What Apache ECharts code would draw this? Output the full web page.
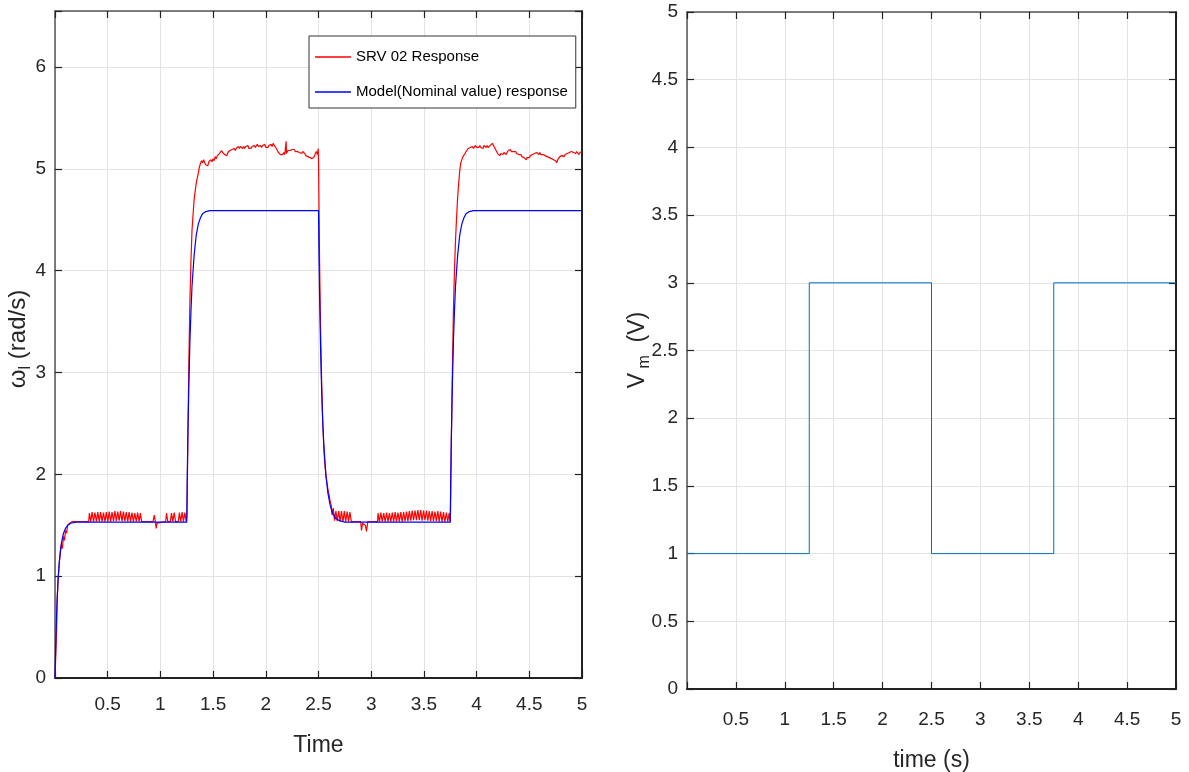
<!DOCTYPE html>
<html>
<head>
<meta charset="utf-8">
<script src="https://cdn.jsdelivr.net/npm/echarts@6/dist/echarts.min.js"></script>
<style>html,body{margin:0;padding:0;background:#fff}#c{width:1189px;height:772px}</style>
</head>
<body>
<div id="c"></div>
<script>
// ---- data ----
const seriesNames = ['SRV 02 Response', 'Model(Nominal value) response'];
const xTickStep = 0.5;
const leftYMax = 6.55;
const rightYMax = 5;

const srvLow1 = [
[0,0],[0.01,0.01],[0.015,0.45],[0.02,0.76],[0.03,0.98],[0.04,1.12],[0.05,1.22],[0.06,1.31],[0.07,1.27],[0.08,1.39],[0.09,1.35],[0.1,1.45],[0.11,1.42],[0.12,1.5],[0.14,1.52],[0.16,1.535],
[0.32,1.535],[0.326,1.62],[0.339,1.535],[0.352,1.63],[0.366,1.535],[0.379,1.625],[0.393,1.535],[0.406,1.63],[0.42,1.535],[0.433,1.63],[0.447,1.535],[0.46,1.625],[0.474,1.535],[0.487,1.63],[0.501,1.535],[0.514,1.635],[0.528,1.535],[0.541,1.63],[0.555,1.54],[0.568,1.64],[0.582,1.54],[0.595,1.635],[0.609,1.545],[0.622,1.64],[0.636,1.54],[0.649,1.635],[0.663,1.54],[0.676,1.63],[0.69,1.535],[0.703,1.63],[0.717,1.535],[0.73,1.625],[0.744,1.535],[0.757,1.62],[0.771,1.535],[0.784,1.625],[0.798,1.535],[0.81,1.62],[0.822,1.535],
[0.93,1.535],[0.942,1.6],[0.952,1.535],[0.96,1.47],[0.968,1.52],[0.98,1.535],
[1.05,1.535],[1.058,1.62],[1.07,1.535],[1.095,1.535],[1.105,1.62],[1.118,1.535],[1.131,1.625],[1.144,1.535],[1.17,1.535],[1.18,1.625],[1.193,1.535],[1.206,1.63],[1.219,1.535],[1.232,1.625],[1.245,1.535]
];
const srvHigh1 = [
[1.252,1.6],[1.26,2.3],[1.27,3.1],[1.28,3.7],[1.29,4.1],[1.3,4.4],[1.32,4.7],[1.34,4.86],[1.36,4.96],[1.37,5.02],[1.38,5.05],[1.39,5.08],[1.4,5.06],[1.41,5.09],[1.42,5.06],[1.43,5.04],[1.44,5.05],[1.45,5.03],[1.46,5.07],[1.47,5.06],[1.48,5.09],[1.49,5.07],[1.5,5.1],[1.51,5.08],[1.52,5.12],[1.53,5.1],[1.54,5.13],[1.55,5.12],[1.56,5.15],[1.57,5.14],[1.58,5.18],[1.59,5.16],[1.6,5.17],[1.61,5.14],[1.62,5.15],[1.63,5.13],[1.64,5.16],[1.65,5.15],[1.66,5.18],[1.67,5.17],[1.68,5.19],[1.69,5.18],[1.7,5.2],[1.71,5.18],[1.72,5.2],[1.73,5.19],[1.74,5.22],[1.75,5.2],[1.76,5.22],[1.77,5.21],[1.78,5.2],[1.79,5.22],[1.8,5.2],[1.81,5.22],[1.82,5.21],[1.83,5.23],[1.84,5.2],[1.85,5.21],[1.86,5.2],[1.87,5.22],[1.88,5.21],[1.89,5.23],[1.9,5.21],[1.91,5.22],[1.92,5.24],[1.93,5.22],[1.94,5.21],[1.95,5.23],[1.96,5.21],[1.97,5.23],[1.98,5.22],[1.99,5.24],[2.0,5.21],[2.01,5.22],[2.02,5.21],[2.03,5.23],[2.04,5.22],[2.05,5.24],[2.06,5.22],[2.07,5.25],[2.08,5.23],[2.09,5.22],[2.1,5.2],[2.11,5.18],[2.12,5.16],[2.13,5.15],[2.14,5.14],[2.15,5.15],[2.16,5.14],[2.17,5.16],[2.18,5.14],[2.19,5.15],[2.193,5.27],[2.196,5.15],[2.2,5.16],[2.21,5.18],[2.22,5.17],[2.23,5.18],[2.24,5.17],[2.25,5.19],[2.26,5.18],[2.27,5.19],[2.28,5.17],[2.29,5.18],[2.3,5.17],[2.31,5.18],[2.32,5.16],[2.33,5.17],[2.34,5.15],[2.35,5.17],[2.36,5.16],[2.37,5.15],[2.38,5.13],[2.39,5.14],[2.4,5.12],[2.41,5.13],[2.42,5.11],[2.43,5.12],[2.44,5.1],[2.45,5.09],[2.46,5.12],[2.47,5.15],[2.48,5.17],[2.49,5.14],[2.497,5.2]
];
const srvLow2 = [
[2.5,5.1],[2.505,4.6],[2.51,4.1],[2.52,3.4],[2.53,2.9],[2.54,2.52],[2.55,2.27],[2.56,2.1],[2.57,2.0],[2.58,1.92],[2.59,1.85],[2.6,1.8],[2.61,1.74],[2.62,1.7],[2.628,1.6],[2.64,1.67],[2.652,1.545],[2.665,1.64],[2.678,1.54],[2.692,1.64],[2.705,1.535],[2.718,1.64],[2.732,1.535],[2.745,1.64],[2.758,1.535],[2.772,1.635],[2.785,1.535],[2.798,1.63],[2.812,1.535],
[2.9,1.535],[2.908,1.45],[2.918,1.52],[2.93,1.535],[2.945,1.5],[2.955,1.44],[2.968,1.535],
[3.06,1.535],[3.065,1.62],[3.078,1.535],[3.092,1.625],[3.105,1.535],[3.119,1.62],[3.132,1.535],[3.146,1.625],[3.159,1.535],[3.173,1.62],[3.186,1.535],[3.2,1.625],[3.213,1.535],[3.227,1.63],[3.24,1.535],[3.254,1.625],[3.267,1.535],[3.281,1.63],[3.294,1.535],[3.308,1.63],[3.321,1.54],[3.335,1.635],[3.348,1.54],[3.362,1.64],[3.375,1.545],[3.389,1.645],[3.402,1.55],[3.416,1.645],[3.429,1.55],[3.443,1.65],[3.456,1.55],[3.47,1.65],[3.483,1.545],[3.497,1.645],[3.51,1.55],[3.524,1.645],[3.537,1.545],[3.551,1.64],[3.564,1.54],[3.578,1.64],[3.591,1.54],[3.605,1.635],[3.618,1.54],[3.632,1.64],[3.645,1.535],[3.659,1.635],[3.672,1.535],[3.686,1.63],[3.699,1.535],[3.713,1.625],[3.726,1.535],[3.74,1.62],[3.748,1.535]
];
const srvHigh2 = [
[3.752,1.6],[3.76,2.3],[3.77,3.0],[3.78,3.6],[3.79,4.0],[3.8,4.3],[3.81,4.52],[3.82,4.72],[3.83,4.86],[3.84,4.98],[3.85,5.06],[3.86,5.09],[3.87,5.12],[3.88,5.13],[3.89,5.15],[3.9,5.17],[3.91,5.18],[3.92,5.2],[3.93,5.19],[3.94,5.21],[3.95,5.2],[3.96,5.22],[3.97,5.2],[3.98,5.21],[3.99,5.23],[4.0,5.21],[4.01,5.22],[4.02,5.21],[4.03,5.23],[4.04,5.21],[4.05,5.22],[4.06,5.2],[4.07,5.23],[4.08,5.22],[4.09,5.21],[4.1,5.23],[4.11,5.21],[4.12,5.22],[4.13,5.23],[4.14,5.22],[4.15,5.25],[4.16,5.23],[4.17,5.21],[4.18,5.19],[4.19,5.17],[4.2,5.15],[4.21,5.14],[4.22,5.13],[4.23,5.15],[4.24,5.16],[4.25,5.14],[4.26,5.16],[4.27,5.15],[4.28,5.14],[4.29,5.16],[4.3,5.18],[4.31,5.17],[4.32,5.19],[4.33,5.17],[4.34,5.18],[4.35,5.17],[4.36,5.16],[4.37,5.17],[4.38,5.15],[4.39,5.16],[4.4,5.14],[4.41,5.15],[4.42,5.14],[4.43,5.12],[4.44,5.13],[4.45,5.11],[4.46,5.12],[4.47,5.09],[4.48,5.11],[4.49,5.12],[4.5,5.11],[4.51,5.13],[4.52,5.12],[4.53,5.14],[4.54,5.13],[4.55,5.15],[4.56,5.14],[4.57,5.16],[4.58,5.15],[4.59,5.14],[4.6,5.16],[4.61,5.14],[4.62,5.15],[4.63,5.14],[4.64,5.15],[4.65,5.13],[4.66,5.14],[4.67,5.12],[4.68,5.13],[4.69,5.11],[4.7,5.12],[4.71,5.1],[4.72,5.11],[4.73,5.09],[4.74,5.1],[4.75,5.08],[4.76,5.06],[4.77,5.09],[4.78,5.1],[4.79,5.12],[4.8,5.11],[4.81,5.13],[4.82,5.14],[4.83,5.12],[4.84,5.14],[4.85,5.13],[4.86,5.15],[4.87,5.14],[4.88,5.16],[4.89,5.15],[4.9,5.17],[4.91,5.18],[4.92,5.16],[4.93,5.17],[4.94,5.15],[4.95,5.17],[4.96,5.16],[4.97,5.14],[4.98,5.16],[4.99,5.15],[5.0,5.17]
];
const modelData = [
[0,0],[0.005,0.24],[0.01,0.45],[0.015,0.62],[0.02,0.76],[0.03,0.98],[0.04,1.13],[0.05,1.24],[0.06,1.32],[0.08,1.42],[0.1,1.47],[0.12,1.5],[0.15,1.52],[0.2,1.53],[1.25,1.53],[1.255,2.0],[1.26,2.33],[1.27,2.88],[1.28,3.3],[1.29,3.6],[1.3,3.85],[1.32,4.15],[1.34,4.35],[1.36,4.46],[1.38,4.52],[1.4,4.56],[1.43,4.58],[1.47,4.59],[2.5,4.59],[2.505,4.12],[2.51,3.78],[2.52,3.22],[2.53,2.82],[2.54,2.52],[2.55,2.3],[2.57,1.99],[2.59,1.81],[2.61,1.7],[2.63,1.63],[2.66,1.57],[2.7,1.545],[2.75,1.53],[3.75,1.53],[3.755,2.0],[3.76,2.33],[3.77,2.88],[3.78,3.3],[3.79,3.6],[3.8,3.85],[3.82,4.15],[3.84,4.35],[3.86,4.46],[3.88,4.52],[3.9,4.56],[3.93,4.58],[3.97,4.59],[5,4.59]
];
const vmTime = [0, 1.25, 1.25, 2.5, 2.5, 3.75, 3.75, 5];
const vmValue = [1, 1, 3, 3, 1, 1, 3, 3];

// ---- chart ----
const FONT = "'Liberation Sans',Arial,sans-serif";
const srvData = srvLow1.concat(srvHigh1, srvLow2, srvHigh2);
const vmData = vmTime.map((t, i) => [t, vmValue[i]]);

const gridLineColor = '#e3e3e3';
const lightAxis = '#555';
const darkAxis = '#222';

function xAx(grid, pos, max, margin, opts) {
  const main = pos === 'bottom';
  return Object.assign({
    type: 'value', gridIndex: grid, position: pos, min: 0, max: max, interval: xTickStep,
    axisLine: { show: true, onZero: false, lineStyle: { color: main ? darkAxis : lightAxis, width: main ? 2 : 1.5 } },
    axisTick: { show: true, inside: true, length: 7, lineStyle: { color: darkAxis, width: 1.2 } },
    axisLabel: { show: main, color: '#262626', fontFamily: FONT, fontSize: 19, margin: margin,
      formatter: v => (v === 0 ? '' : String(v)) },
    splitLine: { show: main, lineStyle: { color: gridLineColor, width: 1 } }
  }, opts || {});
}
function yAx(grid, pos, max, step, opts) {
  const main = pos === 'left';
  return Object.assign({
    type: 'value', gridIndex: grid, position: pos, min: 0, max: max, interval: step,
    axisLine: { show: true, onZero: false, lineStyle: { color: main ? lightAxis : darkAxis, width: main ? 1.5 : 2 } },
    axisTick: { show: true, inside: true, length: 7, lineStyle: { color: darkAxis, width: 1.2 } },
    axisLabel: { show: main, color: '#262626', fontFamily: FONT, fontSize: 19, margin: 9,
      formatter: v => (Math.abs(v / step - Math.round(v / step)) < 1e-6 ? String(v) : '') },
    splitLine: { show: main, lineStyle: { color: gridLineColor, width: 1 } }
  }, opts || {});
}

const chart = echarts.init(document.getElementById('c'), null, { renderer: 'canvas' });
chart.setOption({
  backgroundColor: '#fff',
  animation: false,
  grid: [
    { left: 55, top: 11, width: 527, height: 667, outerBoundsMode: 'none', containLabel: false },
    { left: 687, top: 12, width: 489, height: 677, outerBoundsMode: 'none', containLabel: false }
  ],
  xAxis: [
    xAx(0, 'bottom', 5, 17, { name: 'Time', nameLocation: 'middle', nameGap: 56,
      nameTextStyle: { fontFamily: FONT, fontSize: 23, color: '#262626' } }),
    xAx(0, 'top', 5, 8),
    xAx(1, 'bottom', 5, 21, { name: 'time (s)', nameLocation: 'middle', nameGap: 60,
      nameTextStyle: { fontFamily: FONT, fontSize: 23, color: '#262626' } }),
    xAx(1, 'top', 5, 8)
  ],
  yAxis: [
    yAx(0, 'left', leftYMax, 1),
    yAx(0, 'right', leftYMax, 1),
    yAx(1, 'left', rightYMax, 0.5),
    yAx(1, 'right', rightYMax, 0.5)
  ],
  legend: {
    data: seriesNames,
    orient: 'vertical',
    left: 309, top: 36,
    padding: [11, 8, 6, 6],
    itemGap: 15,
    icon: 'rect',
    itemWidth: 36, itemHeight: 1.5,
    backgroundColor: '#fff',
    borderColor: '#333', borderWidth: 1,
    textStyle: { fontFamily: FONT, fontSize: 15, lineHeight: 20, color: '#000' }
  },
  series: [
    { name: seriesNames[0], type: 'line', xAxisIndex: 0, yAxisIndex: 0, data: srvData,
      symbol: 'none', showSymbol: false, lineStyle: { color: '#ff0000', width: 1.2 }, itemStyle: { color: '#ff0000' } },
    { name: seriesNames[1], type: 'line', xAxisIndex: 0, yAxisIndex: 0, data: modelData,
      symbol: 'none', showSymbol: false, lineStyle: { color: '#0000ff', width: 1.2 }, itemStyle: { color: '#0000ff' } },
    { name: 'Vm', type: 'line', xAxisIndex: 2, yAxisIndex: 2, data: vmData,
      symbol: 'none', showSymbol: false, lineStyle: { color: '#0072bd', width: 1 }, itemStyle: { color: '#0072bd' } }
  ],
  graphic: [
    { type: 'text', x: 18, y: 339, rotation: Math.PI / 2,
      style: { text: '{a|ω}{s|l}{a| (rad/s)}', align: 'center', verticalAlign: 'middle', fill: '#262626',
        rich: { a: { fontFamily: FONT, fontSize: 24, lineHeight: 32, verticalAlign: 'middle', fill: '#262626' },
                s: { fontFamily: FONT, fontSize: 16, lineHeight: 15, verticalAlign: 'bottom', fill: '#262626' } } } },
    { type: 'text', x: 638, y: 350, rotation: Math.PI / 2,
      style: { text: '{a|V}{s| m}{a|  (V)}', align: 'center', verticalAlign: 'middle', fill: '#262626',
        rich: { a: { fontFamily: FONT, fontSize: 23, lineHeight: 30, verticalAlign: 'middle', fill: '#262626' },
                s: { fontFamily: FONT, fontSize: 16, lineHeight: 15, verticalAlign: 'bottom', fill: '#262626' } } } }
  ]
});
</script>
</body>
</html>
